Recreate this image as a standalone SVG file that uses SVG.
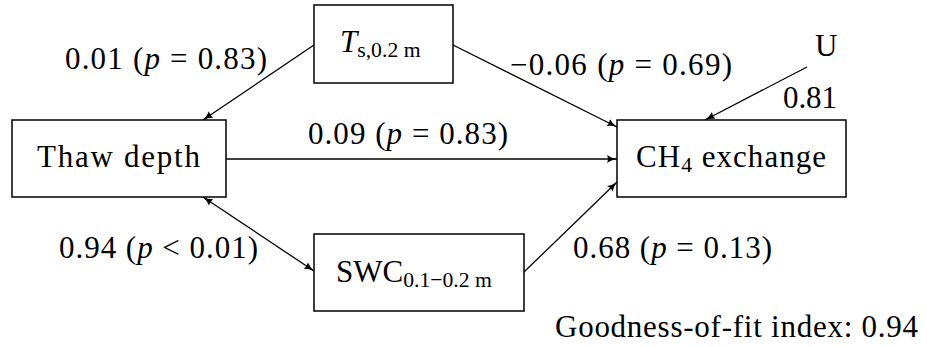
<svg xmlns="http://www.w3.org/2000/svg" width="927" height="347" viewBox="0 0 927 347">
<defs>
<style>
text{font-family:"Liberation Serif","Times New Roman",serif;font-size:31px;fill:#000}
.sub{font-size:21.7px}
.box{fill:#fff;stroke:#000;stroke-width:1.5}
.edge{fill:none;stroke:#000;stroke-width:1.3}
</style>
<marker id="ah" viewBox="0 0 10 8" refX="10" refY="4" markerWidth="10" markerHeight="8" markerUnits="userSpaceOnUse" orient="auto-start-reverse">
<path d="M0,0 Q4,3 10,4 Q4,5 0,8 Q2,4 0,0 Z" fill="#000"/>
</marker>
</defs>
<rect width="927" height="347" fill="#fff"/>
<g id="connectors">
<line class="edge" x1="314" y1="45" x2="203" y2="120" marker-end="url(#ah)"/>
<line class="edge" x1="453" y1="45" x2="617" y2="127" marker-end="url(#ah)"/>
<line class="edge" x1="807" y1="67" x2="705" y2="120" marker-end="url(#ah)"/>
<line class="edge" x1="226" y1="159" x2="617" y2="159" marker-end="url(#ah)"/>
<line class="edge" x1="203" y1="197" x2="314" y2="271" marker-start="url(#ah)" marker-end="url(#ah)"/>
<line class="edge" x1="524" y1="272" x2="617" y2="182" marker-end="url(#ah)"/>
</g>
<g id="labels">
<text x="65" y="69" textLength="202" lengthAdjust="spacing">0.01 (<tspan font-style="italic">p</tspan> = 0.83)</text>
<text x="510" y="75" textLength="222" lengthAdjust="spacing">−0.06 (<tspan font-style="italic">p</tspan> = 0.69)</text>
<text x="308" y="144" textLength="200" lengthAdjust="spacing">0.09 (<tspan font-style="italic">p</tspan> = 0.83)</text>
<text x="59" y="258" textLength="199" lengthAdjust="spacing">0.94 (<tspan font-style="italic">p</tspan> &lt; 0.01)</text>
<text x="573" y="258" textLength="199" lengthAdjust="spacing">0.68 (<tspan font-style="italic">p</tspan> = 0.13)</text>
<text x="815" y="56">U</text>
<text x="783" y="108" textLength="54" lengthAdjust="spacing">0.81</text>
<text x="555" y="337" textLength="363" lengthAdjust="spacing">Goodness-of-fit index: 0.94</text>
</g>
<g id="node-T">
<rect class="box" x="314" y="5" width="139" height="78"/>
<text x="340" y="52"><tspan font-style="italic">T</tspan><tspan class="sub" dy="5">s,0.2 m</tspan></text>
</g>
<g id="node-thaw">
<rect class="box" x="12" y="120" width="214" height="77"/>
<text x="37" y="167" textLength="163" lengthAdjust="spacing">Thaw depth</text>
</g>
<g id="node-ch4">
<rect class="box" x="617" y="120" width="229" height="77"/>
<text x="636" y="167" textLength="190" lengthAdjust="spacing">CH<tspan class="sub" dy="5">4</tspan><tspan dy="-5"> exchange</tspan></text>
</g>
<g id="node-swc">
<rect class="box" x="314" y="234" width="210" height="77"/>
<text x="336" y="282">SWC<tspan class="sub" dy="5">0.1−0.2 m</tspan></text>
</g>
</svg>
